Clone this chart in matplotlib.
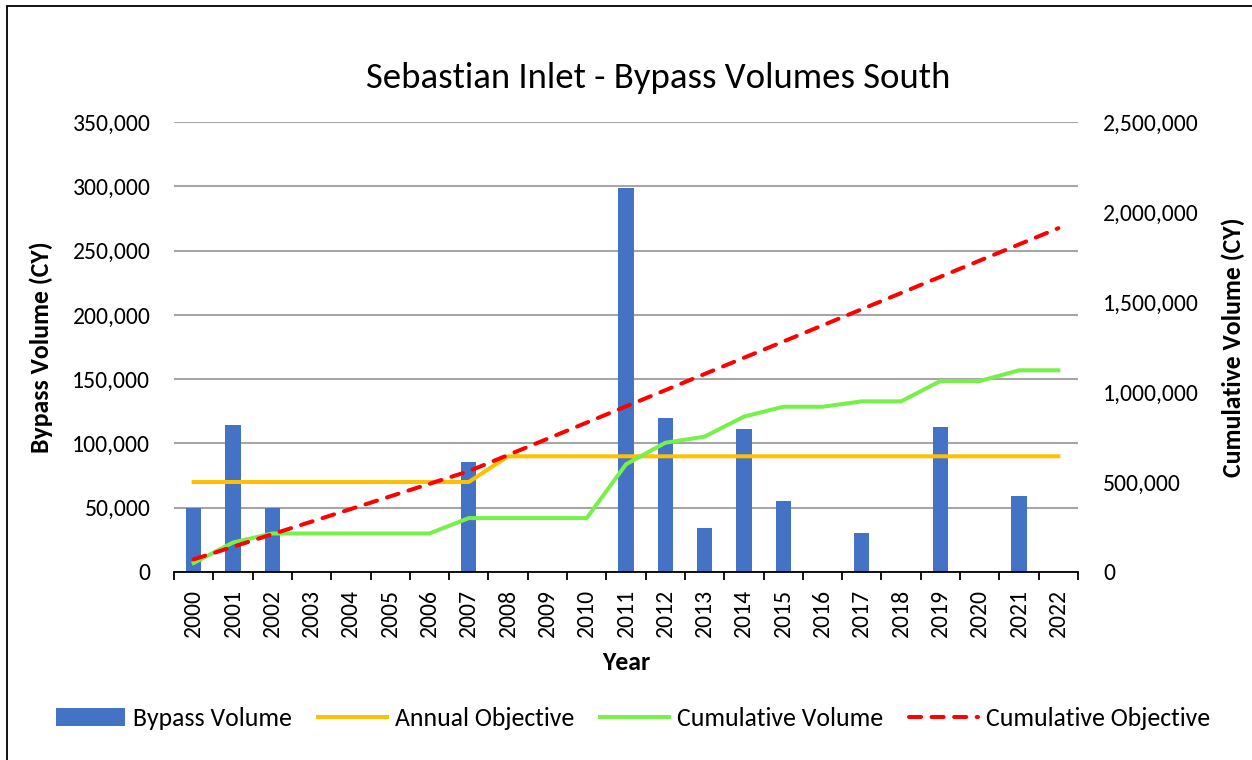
import numpy as np
import matplotlib.pyplot as plt
from matplotlib.ticker import FuncFormatter
from matplotlib.patches import Rectangle

plt.rcParams['font.family'] = ['Carlito', 'Lato', 'DejaVu Sans']

# data
years = [str(y) for y in range(2000, 2023)]
bypass = [50000, 114000, 50000, 0, 0, 0, 0, 85500, 0, 0, 0, 299000,
          119500, 34000, 111000, 55000, 0, 30000, 0, 113000, 0, 59500, 0]
annual_obj = [70000] * 8 + [90000] * 15
cum_volume = [50000, 164000, 214000, 214000, 214000, 214000, 214000, 299500,
              299500, 299500, 299500, 598500, 718000, 752000, 863000, 918000,
              918000, 948000, 948000, 1061000, 1061000, 1120500, 1120500]
cum_obj = [70000, 140000, 210000, 280000, 350000, 420000, 490000, 560000,
           650000, 740000, 830000, 920000, 1010000, 1100000, 1190000, 1280000,
           1370000, 1460000, 1550000, 1640000, 1730000, 1820000, 1910000]

W, H = 1252, 760
fig = plt.figure(figsize=(W / 100, H / 100), dpi=100)
ax = fig.add_axes([174 / W, (H - 572) / H, 904 / W, 450 / H])
ax2 = ax.twinx()

x = np.arange(len(years))
comma = FuncFormatter(lambda v, p: f'{int(v):,}')

# bars + annual objective on left axis
b = ax.bar(x, bypass, width=0.39, color='#4472C4', zorder=2, label='Bypass Volume')
l1, = ax.plot(x, annual_obj, color='#FFC000', lw=2.9, zorder=3, label='Annual Objective')

# cumulative lines on right axis
l2, = ax2.plot(x, cum_volume, color='#77F14A', lw=2.9, zorder=3, label='Cumulative Volume')
l3, = ax2.plot(x, cum_obj, color='#FF0000', lw=2.9, ls=(0, (3.0, 2.6)), zorder=4,
               dash_capstyle='round', label='Cumulative Objective')

ax.set_xlim(-0.5, 22.5)
ax.set_ylim(0, 350000)
ax2.set_ylim(0, 2500000)
ax.set_yticks(np.arange(0, 350001, 50000))
ax2.set_yticks(np.arange(0, 2500001, 500000))
ax.yaxis.set_major_formatter(comma)
ax2.yaxis.set_major_formatter(comma)

ax.grid(axis='y', color='#A6A6A6', lw=1.5, zorder=0)
ax.set_axisbelow(True)
for a in (ax, ax2):
    for s in ('top', 'left', 'right'):
        a.spines[s].set_visible(False)
ax2.spines['bottom'].set_visible(False)
ax.spines['bottom'].set_color('black')
ax.spines['bottom'].set_linewidth(1.3)

ax.set_xticks(x)
ax.set_xticklabels(years, rotation=90, fontsize=17)
ax.set_xticks(np.arange(-0.5, 23, 1), minor=True)
ax.tick_params(axis='x', which='major', length=0, pad=12)
ax.tick_params(axis='x', which='minor', length=6, width=1.3, color='black')
ax.tick_params(axis='y', length=0, labelsize=17, pad=17)
ax2.tick_params(axis='y', length=0, labelsize=17, pad=18)

ax.set_xlabel('Year', fontsize=18.5, fontweight='bold', labelpad=10)
ax.set_ylabel('Bypass Volume (CY)', fontsize=18.5, fontweight='bold', labelpad=14)
ax2.set_ylabel('Cumulative Volume (CY)', fontsize=18.5, fontweight='bold', labelpad=16)

fig.text(658 / W, 1 - 78 / H, 'Sebastian Inlet - Bypass Volumes South',
         fontsize=26.5, ha='center', va='center')

fig.legend(handles=[b, l1, l2, l3], loc='center', bbox_to_anchor=(633 / W, 1 - 718 / H),
           ncol=4, frameon=False, fontsize=18.5, handlelength=2.7, handletextpad=0.3,
           columnspacing=1.0)

# chart border
fig.patches.append(Rectangle((7 / W, -0.01), 1.1, 1 - 6 / H + 0.01, transform=fig.transFigure,
                             fill=False, edgecolor='black', lw=1.3))

fig.savefig('out.png', dpi=100)
